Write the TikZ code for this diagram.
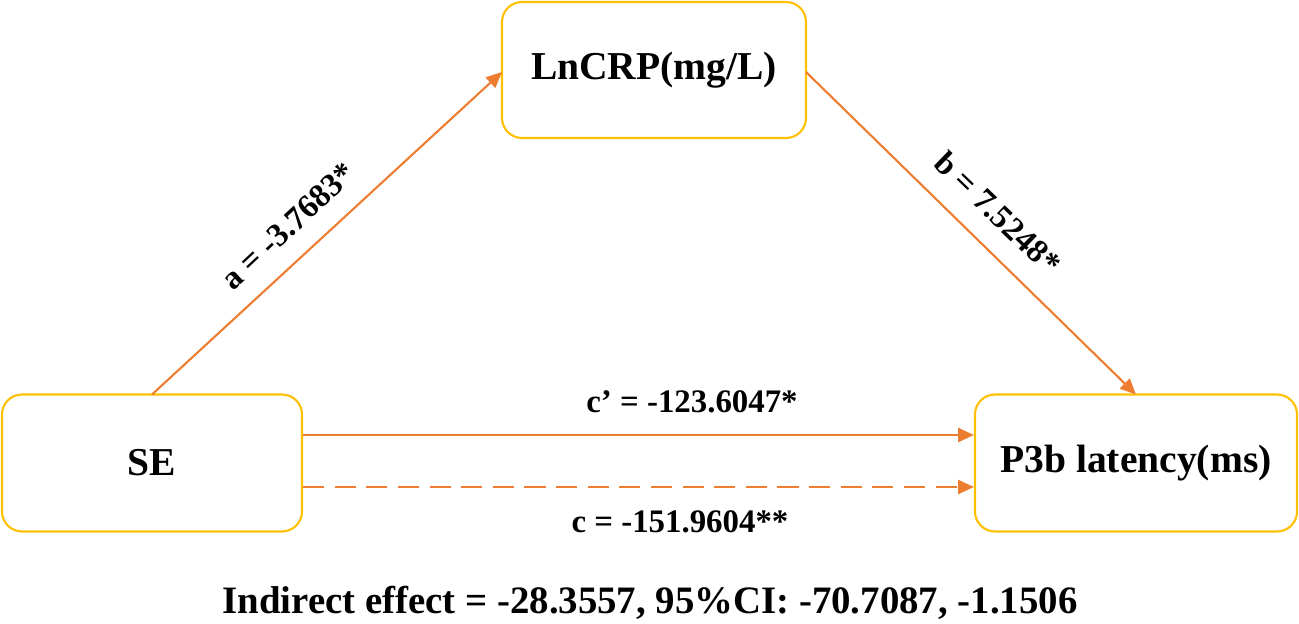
\documentclass[tikz,border=0pt]{standalone}
\usepackage{fontspec}
\setmainfont{Liberation Serif}
\usetikzlibrary{arrows.meta}
\definecolor{boxc}{HTML}{FFC000}
\definecolor{arr}{HTML}{ED7D31}
\begin{document}
\begin{tikzpicture}[x=0.02cm,y=-0.02cm,
  box/.style={draw=boxc,line width=1.2pt,rounded corners=0.4cm,font=\bfseries\fontsize{22.5}{26}\selectfont},
  conn/.style={draw=arr,line width=1.2pt,-{Triangle[length=9pt,width=8pt]}},
  lab/.style={font=\bfseries\fontsize{18.7}{22}\selectfont}]
\useasboundingbox (0,0) rectangle (1299,624);
\node[box,minimum width=304*0.02cm,minimum height=136*0.02cm] (m) at (654,70) {LnCRP(mg/L)};
\node[box,minimum width=300*0.02cm,minimum height=137*0.02cm] (x) at (152,463) {SE};
\node[box,minimum width=322*0.02cm,minimum height=137*0.02cm] (y) at (1136,463) {P3b latency(ms)};
\coordinate (xa) at (152,394.5);
\coordinate (ma) at (502,72);
\coordinate (mb) at (806,72);
\coordinate (yb) at (1136,394.5);
\draw[conn] (xa) -- (ma);
\draw[conn] (mb) -- (yb);
\draw[conn] (x.east|-0,435) -- (y.west|-0,435);
\draw[conn,dashed,dash pattern=on 12pt off 6pt] (x.east|-0,487) -- (y.west|-0,487);
\node[lab,rotate=43] (la) at (288,226) {a = -3.7683*};
\node[lab,rotate=-44] (lb) at (998,213) {b = 7.5248*};
\node[lab] (lc1) at (692,402) {c’ = -123.6047*};
\node[lab] (lc) at (680,522) {c = -151.9604**};
\node[font=\bfseries\fontsize{22.1}{26}\selectfont] (ind) at (650,603) {Indirect effect = -28.3557, 95\%CI: -70.7087, -1.1506};
\end{tikzpicture}
\end{document}
